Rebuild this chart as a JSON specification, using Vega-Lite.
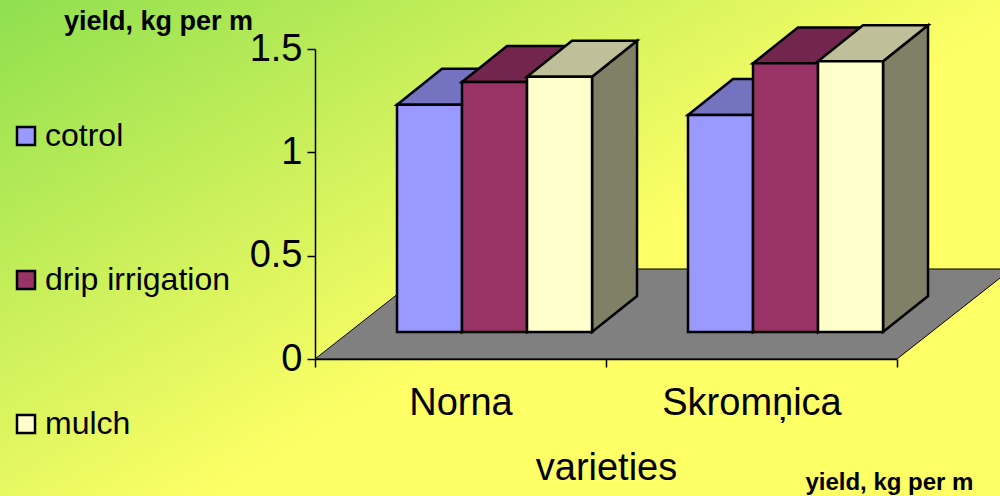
{
"$schema":"https://vega.github.io/schema/vega-lite/v6.json",
"width":582,"height":310,
"autosize":"none",
"padding":{"left":315,"top":49,"right":103,"bottom":137},
"background":"#FFFF66",
"config":{"font":"Liberation Sans","view":{"stroke":null}},
"data":{"values":[
{"variety":"Norna","series":"cotrol","value":1.10},
{"variety":"Norna","series":"drip irrigation","value":1.21},
{"variety":"Norna","series":"mulch","value":1.235},
{"variety":"Skromņica","series":"cotrol","value":1.05},
{"variety":"Skromņica","series":"drip irrigation","value":1.30},
{"variety":"Skromņica","series":"mulch","value":1.31}
]},
"transform":[
{"calculate":"indexof(['Norna','Skromņica'],datum.variety)","as":"vi"},
{"calculate":"indexof(['cotrol','drip irrigation','mulch'],datum.series)","as":"si"},
{"calculate":"datum.vi+0.2818+datum.si*0.2234","as":"x0"},
{"calculate":"datum.x0+0.2234","as":"x1"},
{"calculate":"0.1306","as":"base"},
{"calculate":"datum.value+0.1306","as":"top"},
{"calculate":"[0,1]","as":"depth"}
],
"layer":[
{"data":{"values":[{"label":"background"}]},
 "transform":[],
 "mark":{"type":"rect","color":{"gradient":"linear","x1":0,"y1":0,"x2":0.622,"y2":0.517,"stops":[{"offset":0,"color":"#8FDF4F"},{"offset":1,"color":"#FFFF66"}]}},
 "encoding":{
  "x":{"datum":-1.0825,"type":"quantitative","scale":{"domain":[0,2],"nice":false},"axis":null},
  "x2":{"datum":2.354},
  "y":{"datum":1.7371,"type":"quantitative","scale":{"domain":[0,1.5],"nice":false,"zero":false},"axis":null},
  "y2":{"datum":-0.6629}}},
{"data":{"values":[{"depth":0},{"depth":1}]},
 "transform":[{"calculate":"datum.depth*0.3935","as":"fx0"},{"calculate":"2+datum.depth*0.3935","as":"fx1"},{"calculate":"datum.depth*0.4355","as":"fy"}],
 "mark":{"type":"area","orient":"horizontal","fill":"#808080","stroke":"black","strokeWidth":1,"opacity":1},
 "encoding":{
  "y":{"field":"fy","type":"quantitative","scale":{"domain":[0,1.5],"nice":false,"zero":false},"axis":null},
  "x":{"field":"fx0","type":"quantitative","scale":{"domain":[0,2],"nice":false,"zero":false},"axis":null},
  "x2":{"field":"fx1"}}},
{"mark":{"type":"rule","opacity":0},
 "encoding":{
  "x":{"field":"variety","type":"nominal","sort":["Norna","Skromņica"],"scale":{"paddingInner":0,"paddingOuter":0},
   "axis":{"title":"varieties","titleFontSize":38,"titleFontWeight":"normal","titleColor":"black","titlePadding":27,"labelAngle":0,"labelFontSize":38,"labelColor":"black","labelPadding":17,"tickBand":"extent","tickSize":8,"tickColor":"black","domainColor":"black","domainWidth":1.5,"tickWidth":1.5,"zindex":1,"grid":false}}}},
{"transform":[{"flatten":["depth"]},{"calculate":"datum.x1+datum.depth*0.1546","as":"sx"},{"calculate":"datum.base+datum.depth*0.174","as":"sy0"},{"calculate":"datum.top+datum.depth*0.174","as":"sy1"}],
 "mark":{"type":"area","stroke":"black","strokeWidth":2.5,"opacity":1},
 "encoding":{
  "x":{"field":"sx","type":"quantitative","scale":{"domain":[0,2],"nice":false,"zero":false},"axis":null},
  "y":{"field":"sy1","type":"quantitative","scale":{"domain":[0,1.5],"nice":false,"zero":false},"axis":null},
  "y2":{"field":"sy0"},
  "fill":{"field":"series","type":"nominal","legend":null,"scale":{"domain":["cotrol","drip irrigation","mulch"],"range":["#4D4D80","#4D1A33","#808066"]}},
  "detail":{"field":"variety"}}},
{"transform":[{"flatten":["depth"]},{"calculate":"datum.x0+datum.depth*0.1546","as":"tx0"},{"calculate":"datum.x1+datum.depth*0.1546","as":"tx1"},{"calculate":"datum.top+datum.depth*0.174","as":"ty"}],
 "mark":{"type":"area","orient":"horizontal","stroke":"black","strokeWidth":2.5,"opacity":1},
 "encoding":{
  "y":{"field":"ty","type":"quantitative","scale":{"domain":[0,1.5],"nice":false,"zero":false},"axis":null},
  "x":{"field":"tx0","type":"quantitative","scale":{"domain":[0,2],"nice":false,"zero":false},"axis":null},
  "x2":{"field":"tx1"},
  "fill":{"field":"series","type":"nominal","legend":null,"scale":{"domain":["cotrol","drip irrigation","mulch"],"range":["#7373BF","#73264D","#BFBF99"]}},
  "detail":{"field":"variety"}}},
{"mark":{"type":"rect","stroke":"black","strokeWidth":2.5,"opacity":1},
 "encoding":{
  "x":{"field":"x0","type":"quantitative","scale":{"domain":[0,2],"nice":false,"zero":false},"axis":null},
  "x2":{"field":"x1"},
  "y":{"field":"top","type":"quantitative","scale":{"domain":[0,1.5],"nice":false,"zero":false},
   "axis":{"values":[0,0.5,1,1.5],"format":"~g","labelFontSize":38,"labelColor":"black","labelPadding":5,"tickSize":8,"tickColor":"black","domainColor":"black","domainWidth":1.5,"tickWidth":1.5,"zindex":1,"grid":false,"title":"yield, kg per m","titleFontSize":27,"titleFontWeight":"bold","titleColor":"black","titleAngle":0,"titleAlign":"center","titleBaseline":"alphabetic","titleX":-157,"titleY":-20}},
  "y2":{"field":"base"},
  "fill":{"field":"series","type":"nominal","scale":{"domain":["cotrol","drip irrigation","mulch"],"range":["#9999FF","#993366","#FFFFCC"]},
   "legend":{"title":null,"orient":"none","legendX":-305,"legendY":71,"symbolType":"square","symbolSize":324,"symbolStrokeColor":"black","symbolStrokeWidth":2.5,"symbolOpacity":1,"labelFontSize":32,"labelColor":"black","labelOffset":3,"labelLimit":400,"rowPadding":112}}}},
{"data":{"values":[{"label":"yield, kg per m"}]},
 "transform":[],
 "mark":{"type":"text","fontSize":24,"fontWeight":"bold","color":"black","align":"center","baseline":"alphabetic"},
 "encoding":{
  "x":{"datum":1.974,"type":"quantitative","scale":{"domain":[0,2],"nice":false,"zero":false},"axis":null},
  "y":{"datum":-0.635,"type":"quantitative","scale":{"domain":[0,1.5],"nice":false,"zero":false},"axis":null},
  "text":{"field":"label"}}}
],
"resolve":{"scale":{"x":"independent","fill":"independent"},"axis":{"x":"independent","y":"independent"}}
}
